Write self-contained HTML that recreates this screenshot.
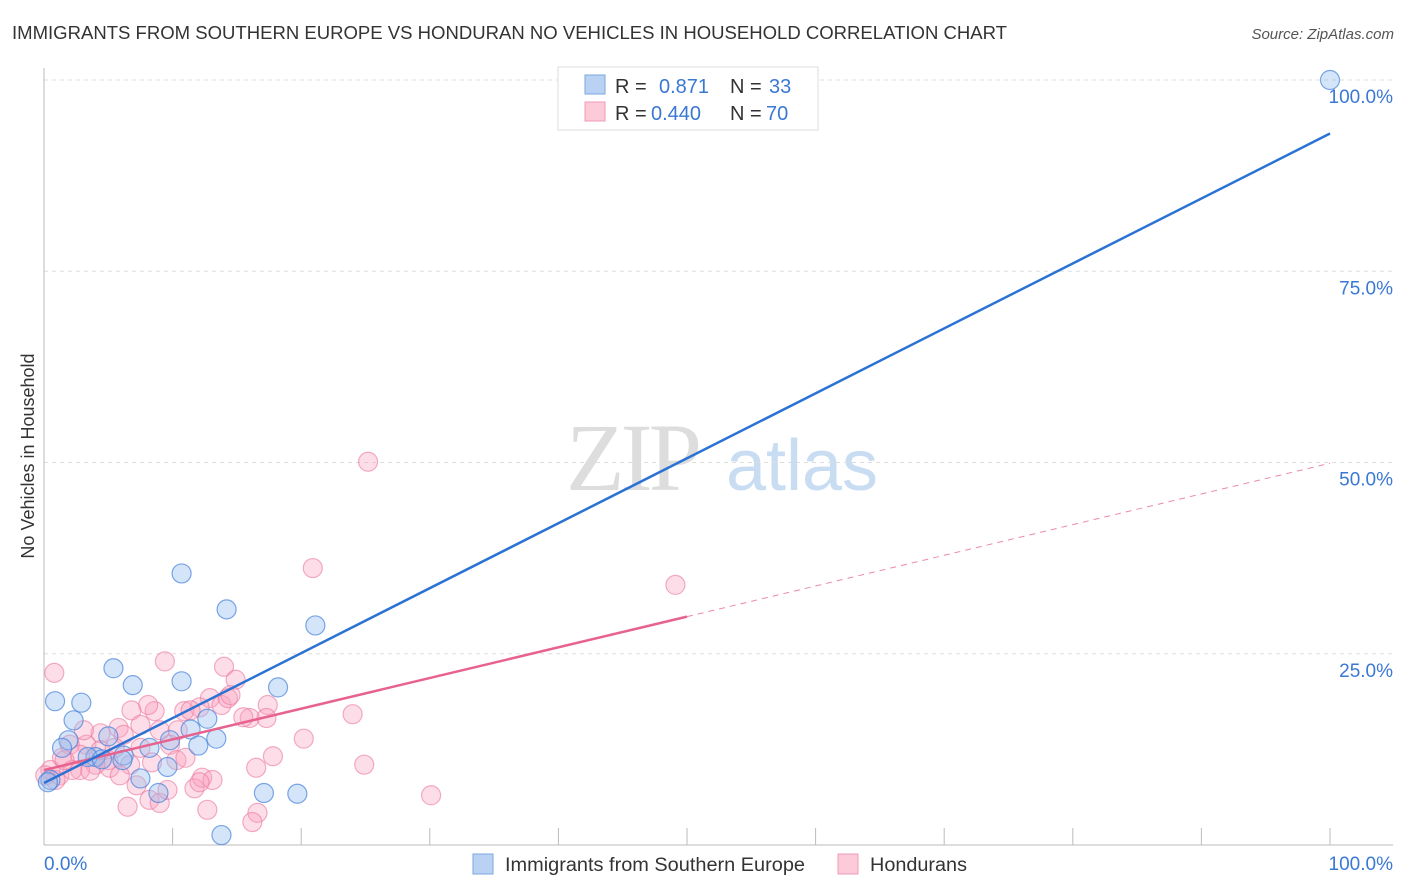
<!DOCTYPE html>
<html><head><meta charset="utf-8"><style>
body{margin:0;background:#fff;font-family:"Liberation Sans",sans-serif;}
svg{display:block}
</style></head><body>
<svg id="chart" width="1406" height="892">
<text x="12" y="39" font-size="18" fill="#333" textLength="995" lengthAdjust="spacingAndGlyphs">IMMIGRANTS FROM SOUTHERN EUROPE VS HONDURAN NO VEHICLES IN HOUSEHOLD CORRELATION CHART</text>
<text x="1394" y="39" font-size="15" fill="#555" font-style="italic" text-anchor="end">Source: ZipAtlas.com</text>
<text x="34" y="456" font-size="18" fill="#333" text-anchor="middle" transform="rotate(-90 34 456)">No Vehicles in Household</text>
<g>
<text x="632" y="490" font-size="96" fill="#ddd" font-family="Liberation Serif,serif" text-anchor="middle" letter-spacing="-4">ZIP</text>
<text x="802" y="490" font-size="72" fill="#c8dcf2" text-anchor="middle">atlas</text>
</g>
<g id="grid"></g>
<g id="marks"></g>
<g>
<rect x="558" y="67" width="260" height="63" fill="#fff" stroke="#ddd"/>
<rect x="585" y="75" width="20" height="19" fill="#b9d2f3" stroke="#7aa7e0"/>
<rect x="585" y="102" width="20" height="19" fill="#fccad8" stroke="#f19ab4"/>
<text x="615" y="93" font-size="20" fill="#333">R =</text>
<text x="659" y="93" font-size="20" fill="#3a78d4">0.871</text>
<text x="730" y="93" font-size="20" fill="#333">N =</text>
<text x="769" y="93" font-size="20" fill="#3a78d4">33</text>
<text x="615" y="120" font-size="20" fill="#333">R =</text>
<text x="651" y="120" font-size="20" fill="#3a78d4">0.440</text>
<text x="730" y="120" font-size="20" fill="#333">N =</text>
<text x="766" y="120" font-size="20" fill="#3a78d4">70</text>
</g>
<g>
<rect x="473" y="854" width="20" height="20" fill="#b9d2f3" stroke="#7aa7e0"/>
<text x="505" y="871" font-size="19" fill="#333" textLength="300" lengthAdjust="spacingAndGlyphs">Immigrants from Southern Europe</text>
<rect x="838" y="854" width="20" height="20" fill="#fccad8" stroke="#f19ab4"/>
<text x="870" y="871" font-size="19" fill="#333" textLength="97" lengthAdjust="spacingAndGlyphs">Hondurans</text>
</g>
</svg>
<script>
const yTicks=[25,50,75,100];
const yTickLabels=["25.0%","50.0%","75.0%","100.0%"];
const xTicks=[0,10,20,30,40,50,60,70,80,90,100];
const blueX=[0.86,2.9,2.3,1.9,1.4,5.4,6.9,10.7,10.7,14.2,21.1,18.2,5.0,6.2,8.2,9.8,11.4,12.7,13.4,12.0,4.0,6.1,7.5,9.6,8.9,17.1,19.7,13.8,100,0.5,3.4,4.5,0.3];
const blueY=[18.8,18.6,16.3,13.7,12.7,23.1,20.9,21.4,35.5,30.8,28.7,20.6,14.2,11.7,12.7,13.7,15.1,16.5,13.9,13.0,11.5,11.1,8.7,10.2,6.8,6.8,6.7,1.3,100,8.5,11.5,11.2,8.2];
const pinkX=[0.8,9.4,14.0,14.9,25.2,20.9,49.1,24.0,17.4,16.0,17.3,12.9,13.8,14.3,12.1,10.9,8.6,8.1,6.8,5.8,6.2,4.4,3.3,2.0,1.4,2.8,5.0,6.7,5.1,4.0,2.8,1.2,2.2,0.9,3.6,9.8,10.3,11.0,8.4,7.2,8.2,6.5,9.0,11.7,12.3,13.1,12.7,16.6,16.2,17.8,16.5,20.2,24.9,30.1,15.5,9.0,11.4,7.5,4.4,5.5,0.5,0.1,1.6,5.9,9.6,12.1,10.4,3.1,7.5,14.5];
const pinkY=[22.5,24.0,23.3,21.6,50.1,36.2,34.0,17.1,18.3,16.6,16.6,19.2,18.3,19.2,18.0,17.5,17.5,18.3,17.6,15.3,14.4,14.6,13.1,13.1,11.4,11.8,11.1,10.5,10.1,10.5,9.8,9.1,9.8,8.5,9.7,13.1,11.1,11.4,10.8,7.8,5.9,5.0,5.5,7.4,8.8,8.5,4.6,4.2,3.0,11.6,10.1,13.9,10.5,6.5,16.7,15.0,17.6,15.7,12.4,12.7,9.8,9.1,11.1,9.1,7.2,8.2,15.0,15.0,12.7,19.6];
const blueTrend=[8.1,93.0];
const pinkTrend=[9.8,49.9];
const pinkSolidEnd=50;

const X0=44,X1=1330,Y0=845,Y1=80;
const sx=v=>X0+(X1-X0)*v/100;
const sy=v=>Y0-(Y0-Y1)*v/100;
const NS="http://www.w3.org/2000/svg";
function mk(tag,attrs,parent){const e=document.createElementNS(NS,tag);for(const k in attrs)e.setAttribute(k,attrs[k]);parent.appendChild(e);return e;}
const grid=document.getElementById('grid'),marks=document.getElementById('marks');
yTicks.forEach((t,i)=>{
  const l=mk('line',{x1:X0,x2:1393,y1:sy(t),y2:sy(t),stroke:'#ddd','stroke-dasharray':'4,4'},grid);
  
  
  const tx=mk('text',{x:1393,y:sy(t)+23,'font-size':19,fill:'#3a78d4','text-anchor':'end'},grid);
  tx.textContent=yTickLabels[i];
  
  
});
const ax=mk('line',{x1:X0,x2:X0,y1:68,y2:Y0,stroke:'#bbb'},grid);


const bx=mk('line',{x1:X0,x2:1393,y1:Y0,y2:Y0,stroke:'#bbb'},grid);


xTicks.forEach(t=>{
  const l=mk('line',{x1:sx(t),x2:sx(t),y1:828,y2:Y0,stroke:'#bbb'},grid);
  
  
});
[[0,'0.0%','start',44],[100,'100.0%','end',1393]].forEach(d=>{
  const tx=mk('text',{x:d[3],y:870,'font-size':19,fill:'#3a78d4','text-anchor':d[2]},grid);
  tx.textContent=d[1];
  
  
});
pinkX.forEach((v,i)=>{
  const c=mk('circle',{cx:sx(v),cy:sy(pinkY[i]),r:9.5,fill:'rgba(248,160,190,0.35)',stroke:'rgba(235,120,160,0.6)','stroke-width':1.2},marks);
  
  
});
blueX.forEach((v,i)=>{
  const c=mk('circle',{cx:sx(v),cy:sy(blueY[i]),r:9.5,fill:'rgba(150,190,240,0.4)',stroke:'rgba(70,130,220,0.7)','stroke-width':1.2},marks);
  
  
});
const pv=x=>pinkTrend[0]+(pinkTrend[1]-pinkTrend[0])*x/100;
const pl=mk('line',{x1:sx(0),y1:sy(pinkTrend[0]),x2:sx(pinkSolidEnd),y2:sy(pv(pinkSolidEnd)),stroke:'#e8628e','stroke-width':2.5},marks);


const pd=mk('line',{x1:sx(pinkSolidEnd),y1:sy(pv(pinkSolidEnd)),x2:sx(100),y2:sy(pinkTrend[1]),stroke:'#eb8aaa','stroke-width':1,'stroke-dasharray':'6,5'},marks);


const bl=mk('line',{x1:sx(0),y1:sy(blueTrend[0]),x2:sx(100),y2:sy(blueTrend[1]),stroke:'#2a72d4','stroke-width':2.5},marks);


</script>
</body></html>
